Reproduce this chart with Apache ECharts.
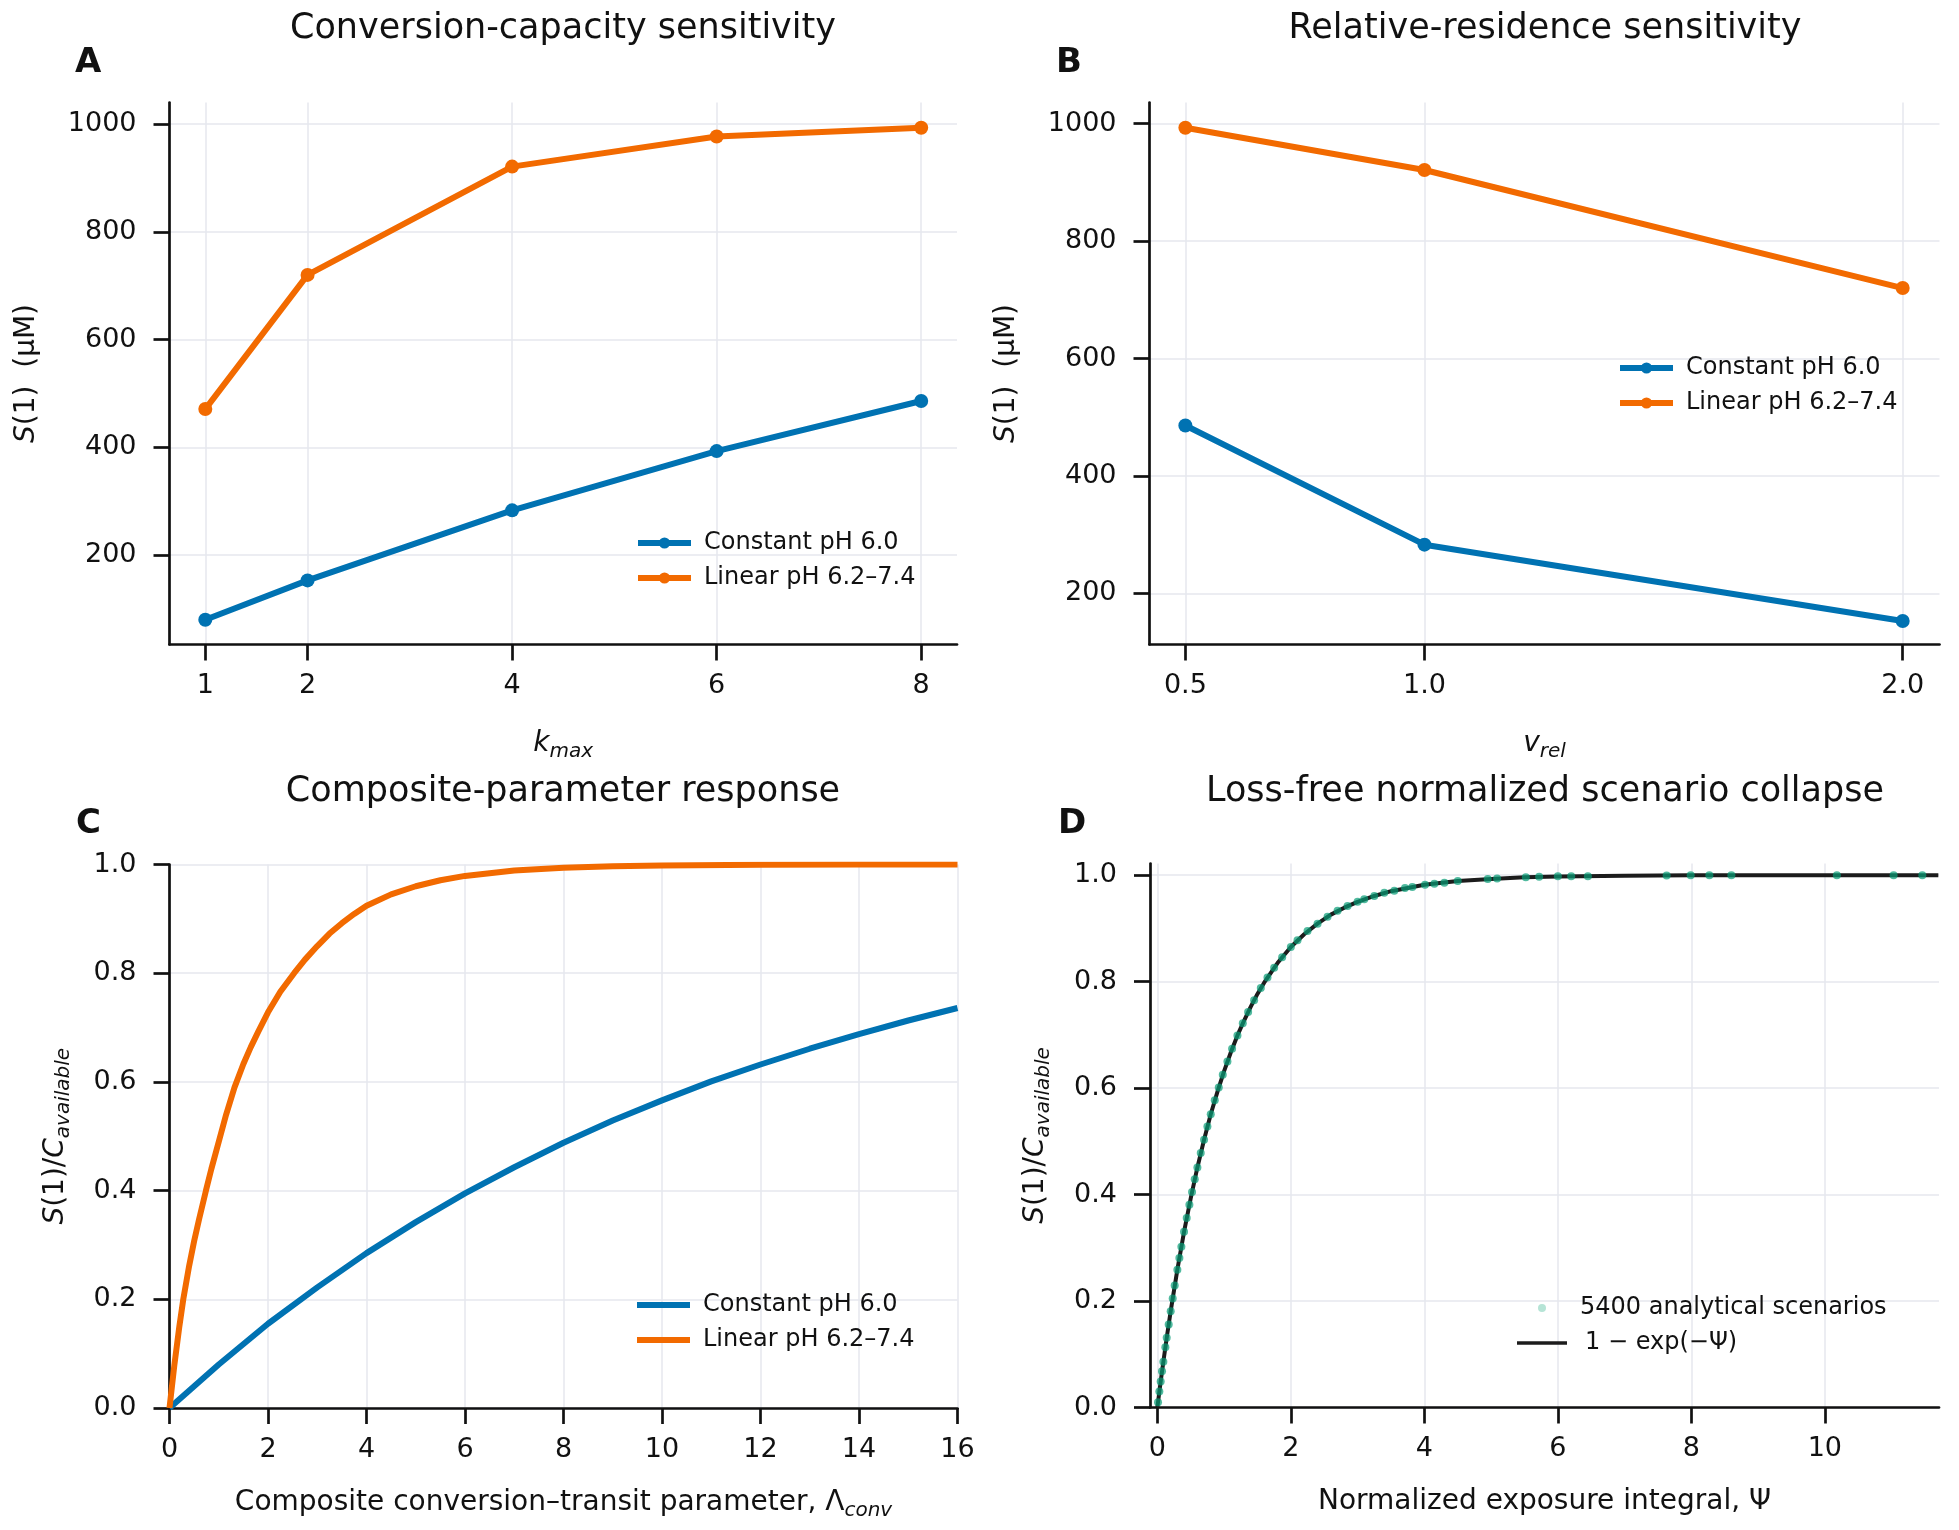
<!DOCTYPE html>
<html>
<head>
<meta charset="utf-8">
<script src="https://cdn.jsdelivr.net/npm/echarts@6/dist/echarts.min.js"></script>
<style>
  html, body { margin: 0; padding: 0; background: #fff; }
  #main { width: 1959px; height: 1530px; }
</style>
</head>
<body>
<div id="main"></div>
<script>
// panel A: conversion capacity
var kmax = [1, 2, 4, 6, 8];
var kConst = [80, 153, 283, 393, 486];
var kLinear = [471, 720, 921, 977, 993];

// panel B: relative residence
var vrel = [0.5, 1.0, 2.0];
var vConst = [486, 283, 153];
var vLinear = [993, 921, 720];

// panel C: composite parameter curves
var lamConst = [0, 1, 2, 3, 4, 5, 6, 7, 8, 9, 10, 11, 12, 13, 14, 15, 16];
var sConst = [0, 0.08, 0.155, 0.222, 0.285, 0.342, 0.395, 0.443, 0.488, 0.529, 0.566, 0.601, 0.632, 0.661, 0.688, 0.713, 0.736];
var lamLinear = [0, 0.1, 0.2, 0.28, 0.4, 0.5, 0.6, 0.74, 0.85, 1.0, 1.15, 1.32, 1.5, 1.65, 1.8, 2.0, 2.25, 2.53, 2.75, 3.0, 3.25, 3.5, 3.75, 4.0, 4.5, 5.0, 5.5, 6.0, 7.0, 8.0, 9.0, 10.0, 12.0, 14.0, 16.0];
var sLinear = [0, 0.08, 0.15, 0.2, 0.262, 0.307, 0.347, 0.4, 0.44, 0.49, 0.54, 0.59, 0.633, 0.664, 0.692, 0.728, 0.766, 0.8, 0.825, 0.85, 0.873, 0.892, 0.909, 0.924, 0.945, 0.96, 0.971, 0.979, 0.989, 0.994, 0.997, 0.998, 0.9995, 1.0, 1.0];

// panel D: scenario points and reference curve
var psiPts = [0.01, 0.03, 0.05, 0.07, 0.09, 0.12, 0.14, 0.17, 0.2, 0.23, 0.26, 0.3, 0.33, 0.36, 0.4, 0.44, 0.48, 0.52, 0.56, 0.6, 0.65, 0.7, 0.75, 0.8, 0.86, 0.92, 0.98, 1.05, 1.12, 1.2, 1.28, 1.36, 1.45, 1.55, 1.65, 1.75, 1.87, 2.0, 2.1, 2.25, 2.4, 2.55, 2.7, 2.85, 3.0, 3.1, 3.25, 3.4, 3.55, 3.71, 3.82, 4.01, 4.15, 4.3, 4.5, 4.95, 5.09, 5.52, 5.72, 6.0, 6.2, 6.45, 7.63, 7.99, 8.27, 8.6, 10.18, 11.03, 11.46];
var sPts = [0.01, 0.03, 0.049, 0.068, 0.086, 0.113, 0.131, 0.156, 0.181, 0.205, 0.229, 0.259, 0.281, 0.302, 0.33, 0.356, 0.381, 0.405, 0.429, 0.451, 0.478, 0.503, 0.528, 0.551, 0.577, 0.601, 0.625, 0.65, 0.674, 0.699, 0.722, 0.743, 0.765, 0.788, 0.808, 0.826, 0.846, 0.865, 0.878, 0.895, 0.909, 0.922, 0.933, 0.942, 0.95, 0.955, 0.961, 0.967, 0.971, 0.976, 0.978, 0.982, 0.984, 0.986, 0.989, 0.993, 0.994, 0.996, 0.997, 0.998, 0.998, 0.998, 0.9995, 0.9997, 0.9997, 0.9998, 1.0, 1.0, 1.0];
var psiFit = [0, 0.05, 0.1, 0.15, 0.2, 0.3, 0.4, 0.5, 0.6, 0.7, 0.8, 0.9, 1.0, 1.1, 1.2, 1.3, 1.4, 1.5, 1.6, 1.8, 2.0, 2.2, 2.4, 2.6, 2.8, 3.0, 3.25, 3.5, 3.75, 4.0, 4.5, 5.0, 5.5, 6.0, 7.0, 8.0, 10.0, 11.7];
var sFit = [0, 0.049, 0.095, 0.139, 0.181, 0.259, 0.33, 0.393, 0.451, 0.503, 0.551, 0.593, 0.632, 0.667, 0.699, 0.727, 0.753, 0.777, 0.798, 0.835, 0.865, 0.889, 0.909, 0.926, 0.939, 0.95, 0.961, 0.97, 0.976, 0.982, 0.989, 0.993, 0.996, 0.9975, 0.999, 0.9997, 1.0, 1.0];

// tick labels
var ticksA = [1, 2, 4, 6, 8];
var ticksB = [0.5, 1.0, 2.0];
var ticksS = [200, 400, 600, 800, 1000];
var ticksFrac = [0, 0.2, 0.4, 0.6, 0.8, 1.0];
var ticksLam = [0, 2, 4, 6, 8, 10, 12, 14, 16];
var ticksPsi = [0, 2, 4, 6, 8, 10];

var BLUE = '#0072B2';
var ORANGE = '#F26A00';
var TEAL = '#079C76';
var INK = '#111111';
var GRIDC = '#e6e7ee';
var FONT = 'DejaVu Sans';

function pairs(xs, ys) {
  return xs.map(function (x, i) { return [x, ys[i]]; });
}

function axis(grid, min, max, ticks, fmt, isY, name, nameGap, rich) {
  return {
    gridIndex: grid, type: 'value', min: min, max: max,
    name: name, nameLocation: 'middle', nameGap: nameGap,
    nameRotate: isY ? 90 : 0,
    nameTextStyle: { fontSize: 28, color: INK, fontFamily: FONT, lineHeight: 36, rich: rich },
    axisLine: { show: true, onZero: false, lineStyle: { color: INK, width: 2.7 } },
    axisTick: { show: true, length: 16, customValues: ticks, lineStyle: { color: INK, width: 2.7 } },
    axisLabel: {
      customValues: ticks, fontSize: 27, color: INK, fontFamily: FONT,
      margin: isY ? 33 : 28,
      formatter: fmt
    },
    splitLine: { show: true, lineStyle: { color: GRIDC, width: 1.5 } }
  };
}

var richName = {
  it: { fontStyle: 'italic', fontSize: 28, color: INK, fontFamily: FONT, lineHeight: 36 },
  sub: { fontStyle: 'italic', fontSize: 20, color: INK, fontFamily: FONT, lineHeight: 18, verticalAlign: 'bottom' }
};

function plain(v) { return String(v); }
function one(v) { return v.toFixed(1); }

function lineSeries(name, color, x, y, data, marker) {
  return {
    type: 'line', name: name, xAxisIndex: x, yAxisIndex: y,
    data: data, color: color,
    showSymbol: !!marker, symbol: marker ? 'circle' : 'none', symbolSize: 14,
    lineStyle: { width: 6, color: color },
    itemStyle: { color: color },
    emphasis: { disabled: true }
  };
}

function legendAt(left, top, items, extra) {
  var l = {
    orient: 'vertical', left: left, top: top,
    itemWidth: 53, itemHeight: 14, itemGap: 9,
    data: items,
    lineStyle: { width: 6 },
    textStyle: { fontSize: 24, color: INK, fontFamily: FONT, lineHeight: 26, padding: [0, 0, 0, 8] }
  };
  for (var k in extra) l[k] = extra[k];
  return l;
}

function label(text, x, y, size, weight) {
  return {
    type: 'text', x: x, y: y,
    style: {
      text: text, fontSize: size, fontWeight: weight || 'normal', fontFamily: FONT,
      fill: INK, align: weight === 'bold' ? 'left' : 'center', verticalAlign: 'middle'
    }
  };
}

var chart = echarts.init(document.getElementById('main'), null, { renderer: 'canvas' });

var option = {
  backgroundColor: '#ffffff',
  animation: false,
  textStyle: { fontFamily: FONT },
  grid: [
    { left: 169.5, top: 102.5, width: 787.5, height: 542 },
    { left: 1149.5, top: 102.5, width: 790, height: 542 },
    { left: 169.5, top: 864.5, width: 788, height: 543.5 },
    { left: 1150, top: 863.5, width: 789, height: 544 }
  ],
  xAxis: [
    axis(0, 0.65, 8.35, ticksA, plain, false, '{it|k}{sub|max}', 81, richName),
    axis(1, 0.425, 2.077, ticksB, one, false, '{it|v}{sub|rel}', 81, richName),
    axis(2, 0, 16, ticksLam, plain, false, 'Composite conversion–transit parameter, Λ{sub|conv}', 77, richName),
    axis(3, -0.11, 11.71, ticksPsi, plain, false, 'Normalized exposure integral, Ψ', 76, richName)
  ],
  yAxis: [
    axis(0, 34, 1040, ticksS, plain, true, '{it|S}(1)  (μM)', 125, richName),
    axis(1, 113, 1036, ticksS, plain, true, '{it|S}(1)  (μM)', 125, richName),
    axis(2, 0, 1, ticksFrac, one, true, '{it|S}(1)/{it|C}{sub|available}', 96, richName),
    axis(3, 0, 1.022, ticksFrac, one, true, '{it|S}(1)/{it|C}{sub|available}', 96, richName)
  ],
  legend: [
    legendAt(630, 525, ['Constant pH 6.0', 'Linear pH 6.2–7.4']),
    legendAt(1612, 350, ['Constant pH 6.0', 'Linear pH 6.2–7.4']),
    legendAt(632, 1287, [{ name: 'Constant pH 6.0', icon: 'rect' }, { name: 'Linear pH 6.2–7.4', icon: 'rect' }], { itemHeight: 6 }),
    legendAt(1533, 1290, [
      { name: '5400 analytical scenarios', itemStyle: { color: '#b6e4d6', opacity: 1 } }
    ], {
      itemWidth: 8, itemHeight: 8,
      textStyle: { fontSize: 24, color: INK, fontFamily: FONT, lineHeight: 26, padding: [0, 0, 0, 29] }
    }),
    legendAt(1512, 1325, [
      { name: '1 − exp(−Ψ)', icon: 'rect', itemStyle: { color: '#1c1c1c' } }
    ], {
      itemWidth: 50, itemHeight: 3.5,
      textStyle: { fontSize: 24, color: INK, fontFamily: FONT, lineHeight: 26, padding: [0, 0, 0, 13] }
    })
  ],
  graphic: [
    label('Conversion-capacity sensitivity', 563, 29, 35),
    label('Relative-residence sensitivity', 1545, 29, 35),
    label('Composite-parameter response', 563, 792, 35),
    label('Loss-free normalized scenario collapse', 1545, 792, 35),
    label('A', 75, 63, 34, 'bold'),
    label('B', 1056, 63, 34, 'bold'),
    label('C', 76, 824, 34, 'bold'),
    label('D', 1058, 824, 34, 'bold')
  ],
  series: [
    lineSeries('Constant pH 6.0', BLUE, 0, 0, pairs(kmax, kConst), true),
    lineSeries('Linear pH 6.2–7.4', ORANGE, 0, 0, pairs(kmax, kLinear), true),
    lineSeries('Constant pH 6.0', BLUE, 1, 1, pairs(vrel, vConst), true),
    lineSeries('Linear pH 6.2–7.4', ORANGE, 1, 1, pairs(vrel, vLinear), true),
    lineSeries('Constant pH 6.0', BLUE, 2, 2, pairs(lamConst, sConst), false),
    lineSeries('Linear pH 6.2–7.4', ORANGE, 2, 2, pairs(lamLinear, sLinear), false),
    {
      type: 'line', name: '1 − exp(−Ψ)', xAxisIndex: 3, yAxisIndex: 3,
      data: pairs(psiFit, sFit), showSymbol: false, symbol: 'none',
      lineStyle: { width: 4, color: '#1c1c1c' }, itemStyle: { color: '#1c1c1c' },
      emphasis: { disabled: true }
    },
    {
      type: 'scatter', name: '5400 analytical scenarios', xAxisIndex: 3, yAxisIndex: 3,
      data: pairs(psiPts, sPts), symbolSize: 8, z: 4,
      itemStyle: { color: TEAL, opacity: 0.7 },
      emphasis: { disabled: true }
    }
  ]
};

chart.setOption(option);
</script>
</body>
</html>
